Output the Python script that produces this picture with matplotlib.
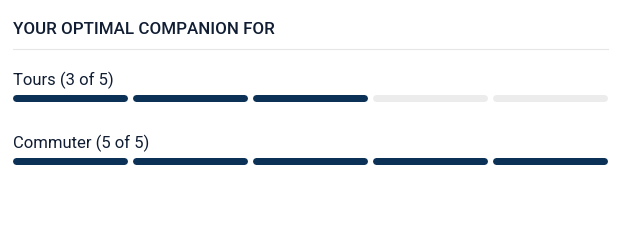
import matplotlib.pyplot as plt

title = "YOUR OPTIMAL COMPANION FOR"
categories = ["Tours", "Commuter"]
scores = [3, 5]
max_score = 5

navy = "#0b3157"
empty = "#ececec"
text_col = "#101d33"

fig = plt.figure(figsize=(6.44, 2.5), dpi=100)
ax = fig.add_axes([0, 0, 1, 1])
ax.set_xlim(0, 644)
ax.set_ylim(250, 0)
ax.axis("off")

left, right = 13, 608
gap = 5
seg_w = (right - left - gap * (max_score - 1)) / max_score
bar_h = 7
lw = bar_h * 72 / fig.dpi

ax.text(left, 34, title, fontsize=12.2, fontfamily="Roboto", fontweight="medium",
        color=text_col, va="baseline")
ax.plot([left, right], [49, 49], color="#e6e6e6", linewidth=0.8)

row_top = 85
row_step = 63
for i, (cat, sc) in enumerate(zip(categories, scores)):
    base = row_top + i * row_step
    ax.text(left, base, f"{cat} ({sc} of {max_score})", fontsize=12,
            fontfamily="Roboto", color=text_col, va="baseline")
    yb = base + 13
    for k in range(max_score):
        x0 = left + k * (seg_w + gap) + bar_h / 2
        x1 = left + k * (seg_w + gap) + seg_w - bar_h / 2
        c = navy if k < sc else empty
        ax.plot([x0, x1], [yb, yb], color=c, linewidth=lw, solid_capstyle="round")

fig.savefig("out.png", dpi=100)
